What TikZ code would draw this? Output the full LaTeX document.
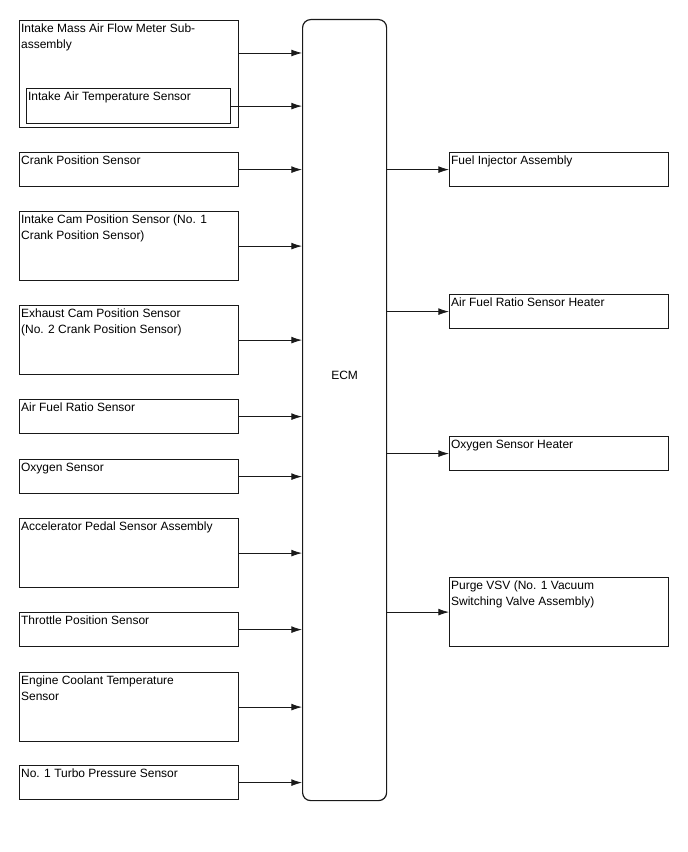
\documentclass[tikz,border=0pt]{standalone}
\usepackage{fontspec}
\setmainfont{Liberation Sans}
\usetikzlibrary{arrows.meta,positioning}
\colorlet{ink}{black!90}
\tikzset{
  >={Latex[length=2.8mm,width=1.8mm]},
  arrow/.style={-{Latex[length=2.8mm,width=1.8mm]}, draw=ink, line width=0.6pt},
  unit/.style={
    draw=ink,
    line width=0.9pt,
    anchor=north west,
    minimum width=164.25pt,
    minimum height=25.5pt,
    inner sep=0pt
  },
  tall/.style={unit, minimum height=51.75pt},
  txt/.style={font=\fontsize{9pt}{11.6pt}\selectfont, align=left, inner xsep=1.4pt, inner ysep=3pt, anchor=north west},
  boxtext/.style={label={[txt]north west:{#1}}}
}

\begin{document}
\begin{tikzpicture}[x=0.75pt,y=-0.75pt]
  \useasboundingbox (0,0) rectangle (688,852);

  % engine control module
  \node[draw=ink, line width=0.9pt, rounded corners=6pt, anchor=north west,
        minimum width=63pt, minimum height=585.75pt, inner sep=0pt,
        label={[font=\fontsize{9pt}{11.6pt}\selectfont, yshift=26pt]center:ECM}] (ecm) at (302,19) {};

  % inputs
  \node[unit, minimum height=80.25pt, boxtext={Intake Mass Air Flow Meter Sub-\\assembly}] (maf) at (19,20) {};
  \node[unit, minimum width=153pt, minimum height=26.25pt, boxtext={Intake Air Temperature Sensor}] (iat) at (26,88) {};
  \node[unit, boxtext={Crank Position Sensor}] (crank) at (19,152) {};
  \node[tall, boxtext={Intake Cam Position Sensor (No. 1\\Crank Position Sensor)}] (incam) at (19,211) {};
  \node[tall, boxtext={Exhaust Cam Position Sensor\\(No. 2 Crank Position Sensor)}] (excam) at (19,305) {};
  \node[unit, boxtext={Air Fuel Ratio Sensor}] (afs) at (19,399) {};
  \node[unit, boxtext={Oxygen Sensor}] (oxs) at (19,459) {};
  \node[tall, boxtext={Accelerator Pedal Sensor Assembly}] (accel) at (19,518) {};
  \node[unit, boxtext={Throttle Position Sensor}] (throttle) at (19,612) {};
  \node[tall, boxtext={Engine Coolant Temperature\\Sensor}] (coolant) at (19,672) {};
  \node[unit, boxtext={No. 1 Turbo Pressure Sensor}] (turbo) at (19,765) {};

  % outputs
  \node[unit, boxtext={Fuel Injector Assembly}] (injector) at (449,152) {};
  \node[unit, boxtext={Air Fuel Ratio Sensor Heater}] (afheater) at (449,294) {};
  \node[unit, boxtext={Oxygen Sensor Heater}] (oxheater) at (449,436) {};
  \node[tall, boxtext={Purge VSV (No. 1 Vacuum\\Switching Valve Assembly)}] (purge) at (449,577) {};

  \path (maf.north east) ++(0,33) coordinate (mafout);
  \draw[arrow] (mafout) -- (mafout -| ecm.west);
  \foreach \src in {iat,crank,incam,excam,afs,oxs,accel,throttle,coolant,turbo}
    \draw[arrow] (\src.east) -- (\src.east -| ecm.west);
  \foreach \dst in {injector,afheater,oxheater,purge}
    \draw[arrow] (\dst.west -| ecm.east) -- (\dst.west);
\end{tikzpicture}
\end{document}
